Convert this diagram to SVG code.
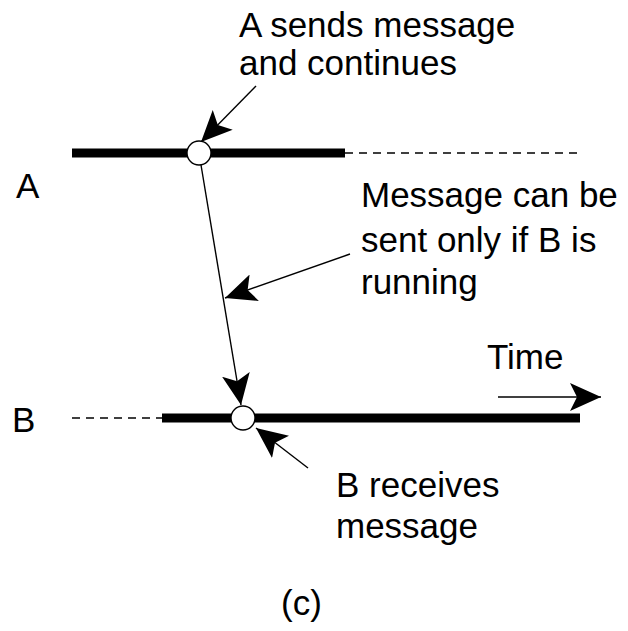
<svg xmlns="http://www.w3.org/2000/svg" width="628" height="631" viewBox="0 0 628 631">
<defs>
<style>
text{font-family:"Liberation Sans",Arial,sans-serif;font-size:35px;fill:#000}
.thick{stroke:#000;stroke-width:9;fill:none}
.dash{stroke:#000;stroke-width:1.5;stroke-dasharray:8,6;fill:none}
.thin{stroke:#000;stroke-width:1.4;fill:none}
.ev{fill:#fff;stroke:#000;stroke-width:1.4}
</style>
<marker id="ah" markerWidth="32" markerHeight="28" refX="31" refY="14" orient="auto" markerUnits="userSpaceOnUse">
<path d="M0,0 L31,14 L0,28 L7,14 Z" fill="#000"/>
</marker>
</defs>
<rect width="628" height="631" fill="#fff"/>
<g id="lineA">
<line class="thick" x1="72" y1="153" x2="345" y2="153"/>
<line class="dash" x1="345" y1="153" x2="580" y2="153"/>
<text x="16" y="198">A</text>
</g>
<g id="lineB">
<line class="dash" x1="72" y1="418" x2="162" y2="418"/>
<line class="thick" x1="162" y1="418" x2="580" y2="418"/>
<text x="12" y="432">B</text>
</g>
<g id="connectors">
<line class="thin" x1="201" y1="165" x2="241" y2="405" marker-end="url(#ah)"/>
<line class="thin" x1="256" y1="86" x2="201" y2="142" marker-end="url(#ah)"/>
<line class="thin" x1="350" y1="254" x2="225" y2="298" marker-end="url(#ah)"/>
<line class="thin" x1="308" y1="468" x2="256" y2="428" marker-end="url(#ah)"/>
<line class="thin" x1="498" y1="397" x2="601" y2="397" marker-end="url(#ah)"/>
</g>
<g id="sendEvent"><circle class="ev" cx="199" cy="153" r="12"/></g>
<g id="recvEvent"><circle class="ev" cx="243" cy="418" r="12"/></g>
<g id="labelSend">
<text x="239" y="37">A sends message</text>
<text x="239" y="75">and continues</text>
</g>
<g id="labelCond">
<text x="361" y="207">Message can be</text>
<text x="361" y="252">sent only if B is</text>
<text x="361" y="294">running</text>
</g>
<g id="labelRecv">
<text x="336" y="497">B receives</text>
<text x="336" y="538">message</text>
</g>
<g id="labelTime"><text x="487" y="369">Time</text></g>
<g id="caption"><text x="281" y="615">(c)</text></g>
</svg>
